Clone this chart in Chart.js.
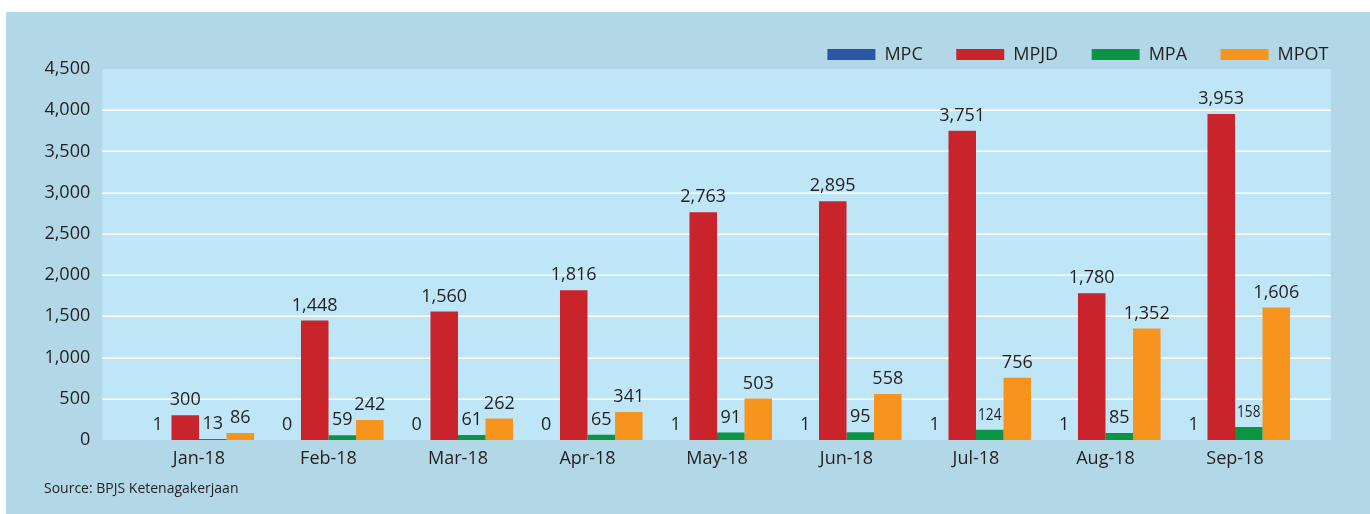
<!DOCTYPE html>
<html>
<head>
<meta charset="utf-8">
<script src="https://cdn.jsdelivr.net/npm/chart.js@4.4.1/dist/chart.umd.min.js"></script>
<style>
  html, body { margin: 0; padding: 0; background: #ffffff; }
  #panel {
    position: absolute; left: 6px; top: 12px; width: 1364px; height: 502px;
    background: #b2d8e7;
  }
  #chart { position: absolute; left: 0; top: 0; }
  #source {
    position: absolute; left: 38px; top: 466px;
    font: 14px "Open Sans", sans-serif; line-height: 20px; color: #231f20;
  }
</style>
</head>
<body>
<div id="panel">
  <canvas id="chart" width="1364" height="502"></canvas>
  <div id="source">Source: BPJS Ketenagakerjaan</div>
</div>
<script>
/* ---------------- DATA ---------------- */
const months = ["Jan-18", "Feb-18", "Mar-18", "Apr-18", "May-18", "Jun-18", "Jul-18", "Aug-18", "Sep-18"];
const mpc  = [1, 0, 0, 0, 1, 1, 1, 1, 1];
const mpjd = [300, 1448, 1560, 1816, 2763, 2895, 3751, 1780, 3953];
const mpa  = [13, 59, 61, 65, 91, 95, 124, 85, 158];
const mpot = [86, 242, 262, 341, 503, 558, 756, 1352, 1606];
const yTicks = [0, 500, 1000, 1500, 2000, 2500, 3000, 3500, 4000, 4500];

const FONT = '"Open Sans", sans-serif';
const TEXT = "#231f20";

/* trim the legend box a little so the plot starts closer under it */
const legendTrim = {
  id: "legendTrim",
  afterInit(chart) {
    const lg = chart.legend;
    if (!lg || lg._trimmed) return;
    const fit = lg.fit;
    lg.fit = function () {
      fit.call(this);
      this.height -= 4.5;
    };
    lg._trimmed = true;
  },
};

/* plot background + white grid lines (wider than category span) */
const plotBg = {
  id: "plotBg",
  beforeDraw(chart) {
    const { ctx, chartArea: a, scales: { y } } = chart;
    const left = a.left - 32, right = a.right + 31;
    ctx.save();
    ctx.fillStyle = "#bee6f7";
    ctx.fillRect(left, a.top, right - left, a.bottom - a.top);
    ctx.strokeStyle = "#ffffff";
    ctx.lineWidth = 1.5;
    yTicks.forEach((v) => {
      if (v === 0 || v === 4500) return;
      const py = Math.round(y.getPixelForValue(v)) + 0.25;
      ctx.beginPath();
      ctx.moveTo(left, py);
      ctx.lineTo(right, py);
      ctx.stroke();
    });
    ctx.restore();
  },
};

/* value labels above bars */
const valueLabels = {
  id: "valueLabels",
  afterDatasetsDraw(chart) {
    const { ctx } = chart;
    ctx.save();
    ctx.fillStyle = TEXT;
    ctx.font = "18px " + FONT;
    ctx.textAlign = "center";
    ctx.textBaseline = "bottom";
    chart.data.datasets.forEach((ds, di) => {
      chart.getDatasetMeta(di).data.forEach((bar, i) => {
        const txt = ds.data[i].toLocaleString("en-US");
        const w = ctx.measureText(txt).width;
        const bw = bar.width;
        if (di === 2 && w > bw) {
          const s = (bw * 0.85) / w;
          ctx.save();
          ctx.translate(bar.x, bar.y - 6);
          ctx.scale(s, 0.95);
          ctx.fillText(txt, 0, 0);
          ctx.restore();
        } else {
          ctx.fillText(txt, bar.x, bar.y - 6);
        }
      });
    });
    ctx.restore();
  },
};

new Chart(document.getElementById("chart"), {
  type: "bar",
  data: {
    labels: months,
    datasets: [
      { label: "MPC", data: mpc, backgroundColor: "#2a56a5" },
      { label: "MPJD", data: mpjd, backgroundColor: "#c9242c" },
      { label: "MPA", data: mpa, backgroundColor: "#0c9444" },
      { label: "MPOT", data: mpot, backgroundColor: "#f7941e" },
    ],
  },
  options: {
    responsive: false,
    animation: false,
    datasets: { bar: { categoryPercentage: 0.85, barPercentage: 1.0 } },
    layout: { padding: { top: 0, right: 8, bottom: 34, left: 0 } },
    plugins: {
      tooltip: { enabled: false },
      legend: {
        position: "top",
        align: "end",
        labels: {
          boxWidth: 48,
          boxHeight: 11,
          padding: 33.5,
          color: TEXT,
          font: { family: FONT, size: 18 },
        },
      },
    },
    scales: {
      x: {
        grid: { display: false },
        border: { display: false },
        ticks: { color: TEXT, font: { family: FONT, size: 18 }, padding: 0, maxRotation: 0 },
        afterFit(s) { s.height = 40; },
      },
      y: {
        min: 0,
        max: 4500,
        grid: { display: false, drawTicks: false },
        border: { display: false },
        afterBuildTicks(s) { s.ticks = yTicks.map((v) => ({ value: v })); },
        ticks: {
          color: TEXT,
          font: { family: FONT, size: 18 },
          padding: 44,
          callback: (v) => v.toLocaleString("en-US"),
        },
        afterFit(s) { s.width = 128.25; },
      },
      yr: {
        type: "linear",
        position: "right",
        grid: { display: false, drawTicks: false },
        border: { display: false },
        ticks: { display: false },
        afterFit(s) { s.width = 62.25; },
      },
    },
  },
  plugins: [legendTrim, plotBg, valueLabels],
});
</script>
</body>
</html>
